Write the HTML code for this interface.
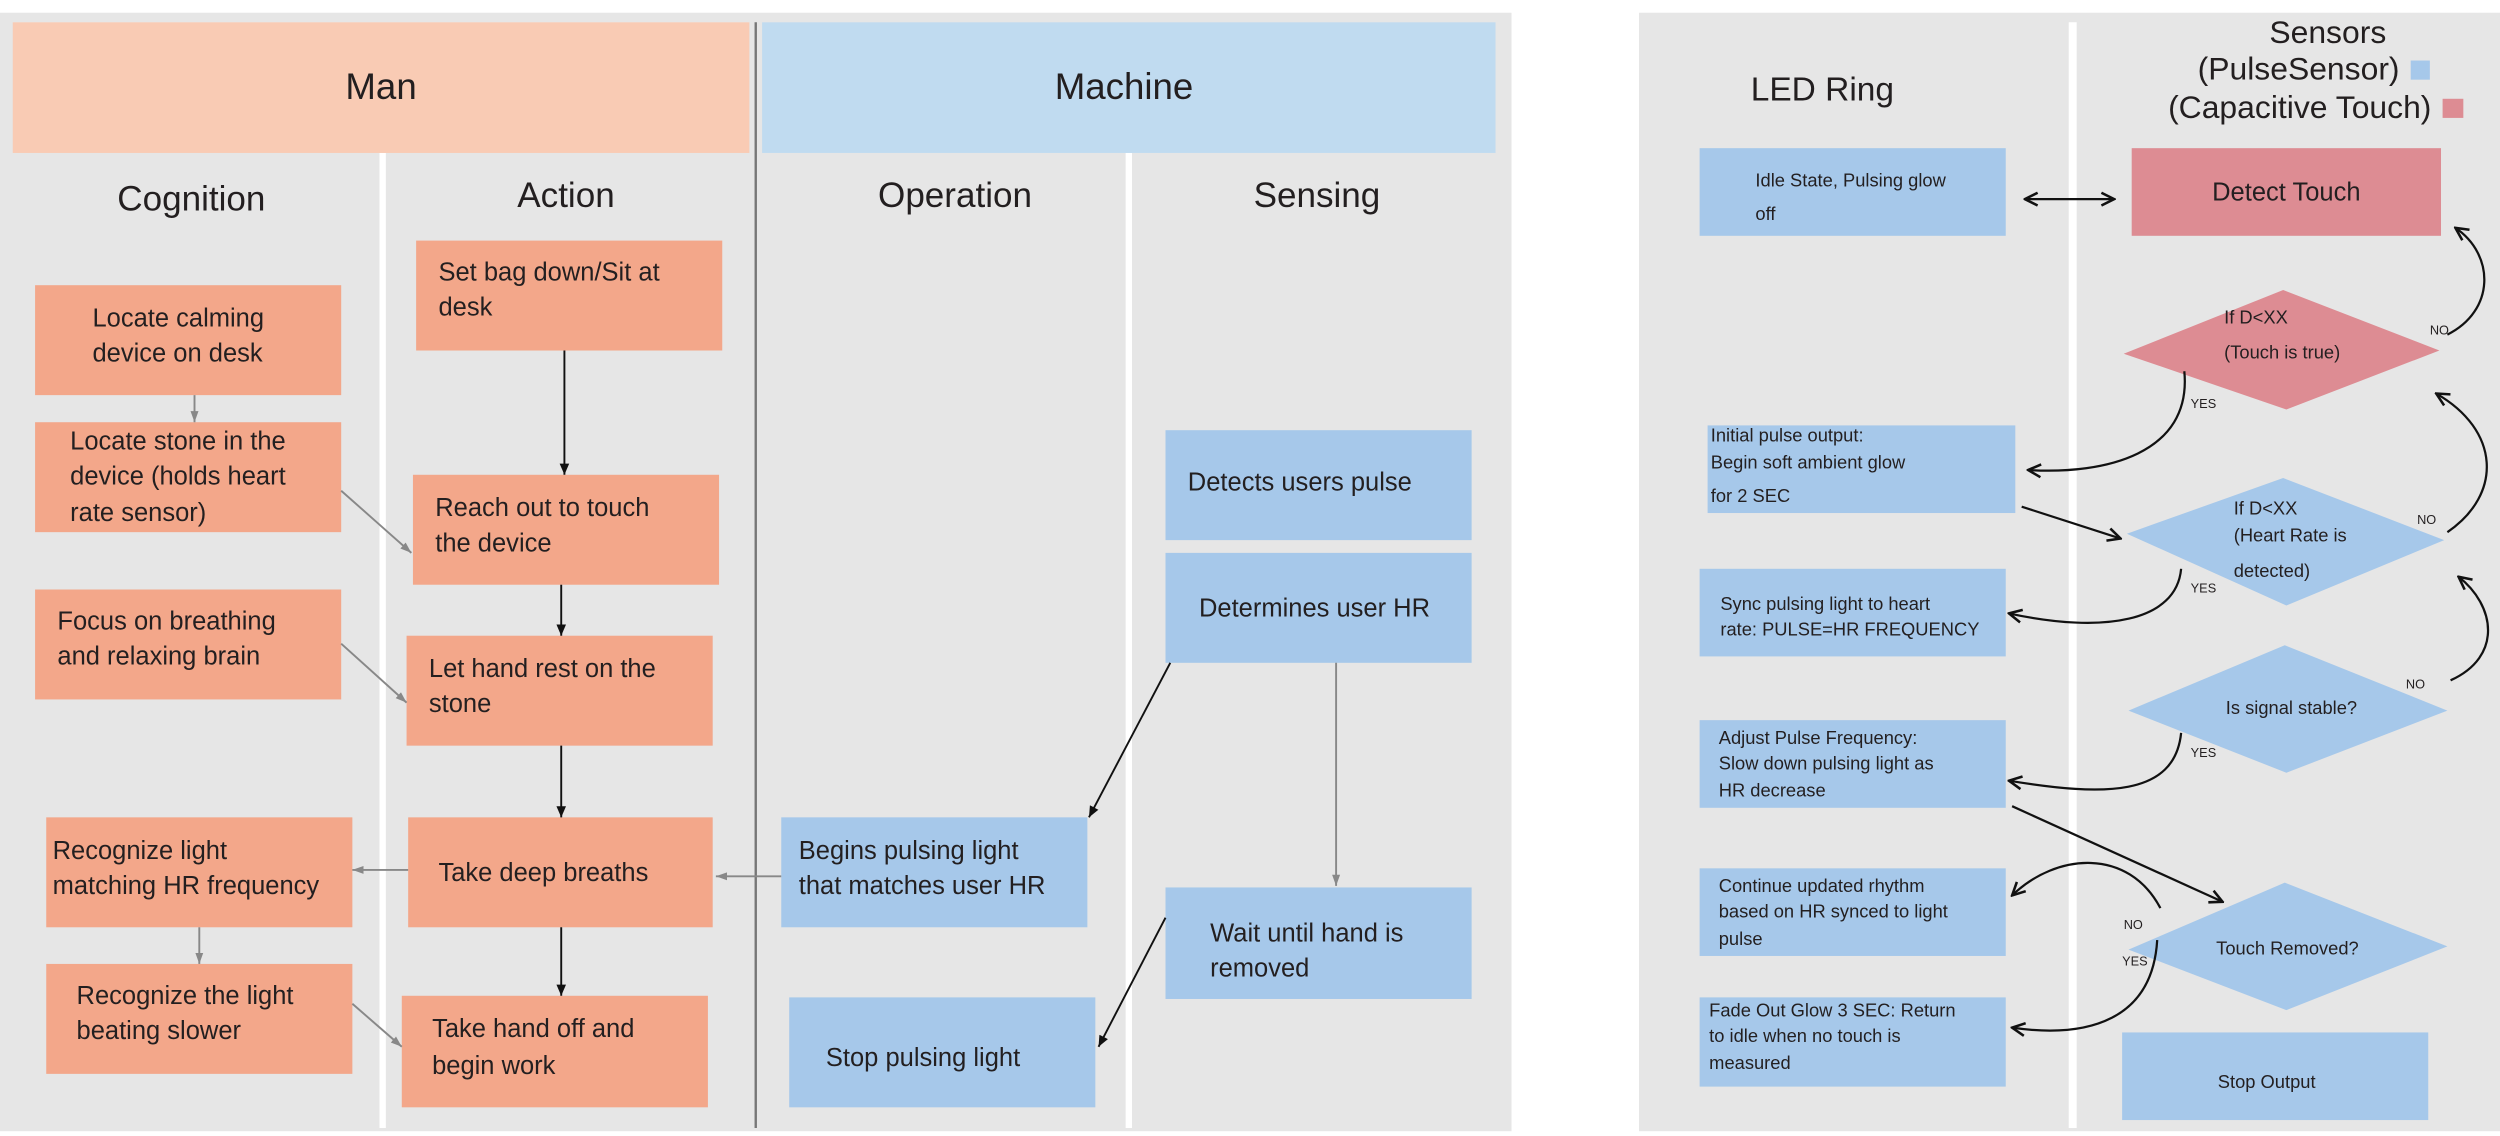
<!DOCTYPE html>
<html><head><meta charset="utf-8"><style>
html,body{margin:0;padding:0;background:#fff;}
svg{display:block;}
text{font-family:"Liberation Sans",sans-serif;fill:#231f20;}
</style></head><body>
<svg width="2500" height="1136" viewBox="0 0 1568 713" preserveAspectRatio="none" xmlns="http://www.w3.org/2000/svg">
<defs>
<marker id="ab" markerWidth="10" markerHeight="10" refX="9" refY="5" orient="auto" markerUnits="userSpaceOnUse"><path d="M1,1 L9,5 L1,9" fill="none" stroke="#111" stroke-width="1.6"/></marker>
<marker id="af" markerWidth="8" markerHeight="8" refX="7" refY="4" orient="auto" markerUnits="userSpaceOnUse"><path d="M0,1 L7,4 L0,7 Z" fill="#111"/></marker>
<marker id="ag" markerWidth="8" markerHeight="8" refX="7" refY="4" orient="auto" markerUnits="userSpaceOnUse"><path d="M0,1.5 L7,4 L0,6.5 Z" fill="#888"/></marker>
<marker id="abs" markerWidth="10" markerHeight="10" refX="1" refY="5" orient="auto" markerUnits="userSpaceOnUse"><path d="M9,1 L1,5 L9,9" fill="none" stroke="#111" stroke-width="1.6"/></marker>
</defs>
<rect x="0" y="0" width="1568" height="713" fill="#fff"/>
<rect x="0" y="8" width="948" height="702" fill="#e6e6e6"/>
<rect x="1028" y="8" width="540" height="702" fill="#e6e6e6"/>
<rect x="8" y="14" width="462" height="82" fill="#f9cbb4"/>
<rect x="478" y="14" width="460" height="82" fill="#c0dbf0"/>
<text x="239" y="62" font-size="23" text-anchor="middle">Man</text>
<text x="705" y="62" font-size="23" text-anchor="middle">Machine</text>
<line x1="240" y1="96" x2="240" y2="708" stroke="#fff" stroke-width="4"/>
<line x1="708" y1="96" x2="708" y2="708" stroke="#fff" stroke-width="4"/>
<line x1="474" y1="14" x2="474" y2="708" stroke="#777" stroke-width="1.5"/>
<line x1="1300" y1="14" x2="1300" y2="708" stroke="#fff" stroke-width="5"/>
<g font-size="22" text-anchor="middle">
<text x="120" y="132">Cognition</text><text x="355" y="130">Action</text>
<text x="599" y="130">Operation</text><text x="826" y="130">Sensing</text>
</g>
<g fill="#f3a78a">
<rect x="22" y="179" width="192" height="69"/><rect x="22" y="265" width="192" height="69"/>
<rect x="22" y="370" width="192" height="69"/><rect x="29" y="513" width="192" height="69"/>
<rect x="29" y="605" width="192" height="69"/><rect x="261" y="151" width="192" height="69"/>
<rect x="259" y="298" width="192" height="69"/><rect x="255" y="399" width="192" height="69"/>
<rect x="256" y="513" width="191" height="69"/><rect x="252" y="625" width="192" height="70"/>
</g>
<g fill="#a6c8ea">
<rect x="490" y="513" width="192" height="69"/><rect x="495" y="626" width="192" height="69"/>
<rect x="731" y="270" width="192" height="69"/><rect x="731" y="347" width="192" height="69"/>
<rect x="731" y="557" width="192" height="70"/>
</g>
<g font-size="16">
<text x="58" y="205">Locate calming</text><text x="58" y="227">device on desk</text>
<text x="44" y="282">Locate stone in the</text><text x="44" y="304">device (holds heart</text><text x="44" y="327">rate sensor)</text>
<text x="36" y="395">Focus on breathing</text><text x="36" y="417">and relaxing brain</text>
<text x="33" y="539">Recognize light</text><text x="33" y="561">matching HR frequency</text>
<text x="48" y="630">Recognize the light</text><text x="48" y="652">beating slower</text>
<text x="275" y="176">Set bag down/Sit at</text><text x="275" y="198">desk</text>
<text x="273" y="324">Reach out to touch</text><text x="273" y="346">the device</text>
<text x="269" y="425">Let hand rest on the</text><text x="269" y="447">stone</text>
<text x="275" y="553">Take deep breaths</text>
<text x="271" y="651">Take hand off and</text><text x="271" y="674">begin work</text>
<text x="501" y="539">Begins pulsing light</text><text x="501" y="561">that matches user HR</text>
<text x="518" y="669">Stop pulsing light</text>
<text x="745" y="308">Detects users pulse</text>
<text x="752" y="387">Determines user HR</text>
<text x="759" y="591">Wait until hand is</text><text x="759" y="613">removed</text>
</g>
<g fill="none" stroke-width="1.2">
<line x1="122" y1="248" x2="122" y2="265" stroke="#888" marker-end="url(#ag)"/>
<line x1="214" y1="308" x2="258" y2="347" stroke="#888" marker-end="url(#ag)"/>
<line x1="214" y1="404" x2="255" y2="441" stroke="#888" marker-end="url(#ag)"/>
<line x1="256" y1="546" x2="221" y2="546" stroke="#888" marker-end="url(#ag)"/>
<line x1="490" y1="550" x2="449" y2="550" stroke="#888" marker-end="url(#ag)"/>
<line x1="125" y1="582" x2="125" y2="605" stroke="#888" marker-end="url(#ag)"/>
<line x1="221" y1="630" x2="252" y2="657" stroke="#888" marker-end="url(#ag)"/>
<line x1="838" y1="416" x2="838" y2="556" stroke="#888" marker-end="url(#ag)"/>
<line x1="354" y1="220" x2="354" y2="298" stroke="#111" marker-end="url(#af)"/>
<line x1="352" y1="367" x2="352" y2="399" stroke="#111" marker-end="url(#af)"/>
<line x1="352" y1="468" x2="352" y2="513" stroke="#111" marker-end="url(#af)"/>
<line x1="352" y1="582" x2="352" y2="625" stroke="#111" marker-end="url(#af)"/>
<line x1="734" y1="416" x2="683" y2="513" stroke="#111" marker-end="url(#af)"/>
<line x1="731" y1="576" x2="689" y2="657" stroke="#111" marker-end="url(#af)"/>
</g>
<text x="1143" y="63" font-size="21" text-anchor="middle">LED Ring</text>
<text x="1460" y="27" font-size="20" text-anchor="middle">Sensors</text>
<text x="1505" y="50" font-size="20" text-anchor="end">(PulseSensor)</text>
<text x="1525" y="74" font-size="20" text-anchor="end">(Capacitive Touch)</text>
<rect x="1512" y="38" width="12" height="12" fill="#a6c8ea"/>
<rect x="1532" y="62" width="13" height="12" fill="#dd8c93"/>
<rect x="1337" y="93" width="194" height="55" fill="#dd8c93"/>
<text x="1434" y="126" font-size="16" text-anchor="middle">Detect Touch</text>
<g fill="#a6c8ea">
<rect x="1066" y="93" width="192" height="55"/><rect x="1071" y="267" width="193" height="55"/>
<rect x="1066" y="357" width="192" height="55"/><rect x="1066" y="452" width="192" height="55"/>
<rect x="1066" y="545" width="192" height="55"/><rect x="1066" y="626" width="192" height="56"/>
<rect x="1331" y="648" width="192" height="55"/>
<polygon points="1334,335 1432,300 1533,339 1434,380"/>
<polygon points="1335,446 1433,405 1535,446 1434,485"/>
<polygon points="1335,596 1433,554 1535,594 1434,634"/>
</g>
<polygon points="1332,222 1432,182 1530,220 1434,257" fill="#dd8c93"/>
<g font-size="11.5">
<text x="1101" y="117">Idle State, Pulsing glow</text><text x="1101" y="138">off</text>
<text x="1073" y="277">Initial pulse output:</text><text x="1073" y="294">Begin soft ambient glow</text><text x="1073" y="315">for 2 SEC</text>
<text x="1079" y="383">Sync pulsing light to heart</text><text x="1079" y="399">rate: PULSE=HR FREQUENCY</text>
<text x="1078" y="467">Adjust Pulse Frequency:</text><text x="1078" y="483">Slow down pulsing light as</text><text x="1078" y="500">HR decrease</text>
<text x="1078" y="560">Continue updated rhythm</text><text x="1078" y="576">based on HR synced to light</text><text x="1078" y="593">pulse</text>
<text x="1072" y="638">Fade Out Glow 3 SEC: Return</text><text x="1072" y="654">to idle when no touch is</text><text x="1072" y="671">measured</text>
<text x="1395" y="203">If D&lt;XX</text><text x="1395" y="225">(Touch is true)</text>
<text x="1401" y="323">If D&lt;XX</text><text x="1401" y="340">(Heart Rate is</text><text x="1401" y="362">detected)</text>
<text x="1396" y="448">Is signal stable?</text>
<text x="1390" y="599">Touch Removed?</text>
<text x="1391" y="683">Stop Output</text>
</g>
<g font-size="8">
<text x="1524" y="210">NO</text><text x="1374" y="256">YES</text>
<text x="1516" y="329">NO</text><text x="1374" y="372">YES</text>
<text x="1509" y="432">NO</text><text x="1374" y="475">YES</text>
<text x="1332" y="583">NO</text><text x="1331" y="606">YES</text>
</g>
<g fill="none" stroke="#111" stroke-width="1.4">
<line x1="1270" y1="125" x2="1326" y2="125" marker-end="url(#ab)" marker-start="url(#abs)"/>
<path d="M1370,233 C1375,285 1320,298 1272,295" marker-end="url(#ab)"/>
<line x1="1268" y1="318" x2="1330" y2="338" marker-end="url(#ab)"/>
<path d="M1535,210 C1565,195 1565,160 1540,143" marker-end="url(#ab)"/>
<path d="M1535,334 C1570,310 1568,270 1528,247" marker-end="url(#ab)"/>
<path d="M1368,357 C1365,390 1320,398 1260,385" marker-end="url(#ab)"/>
<path d="M1537,427 C1570,412 1565,380 1542,362" marker-end="url(#ab)"/>
<path d="M1368,460 C1364,500 1320,500 1260,490" marker-end="url(#ab)"/>
<line x1="1262" y1="506" x2="1394" y2="566" marker-end="url(#ab)"/>
<path d="M1355,570 C1335,532 1290,535 1262,562" marker-end="url(#ab)"/>
<path d="M1353,590 C1350,640 1310,652 1262,645" marker-end="url(#ab)"/>
</g>
</svg>
</body></html>
